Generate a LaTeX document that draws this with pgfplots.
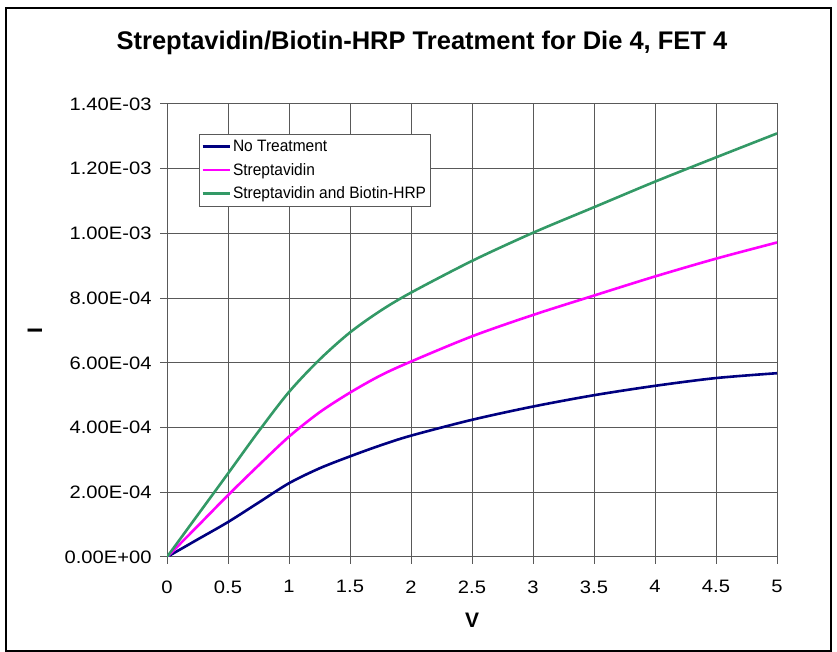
\documentclass[border=0pt]{standalone}
\usepackage{fontspec}
\setmainfont{Liberation Sans}
\newfontfamily\tickfont{Liberation Sans}[FakeStretch=1.12]
\newfontfamily\legfont{Liberation Sans}[FakeStretch=0.94]
\usepackage{pgfplots}
\pgfplotsset{compat=1.18}
\definecolor{navyc}{RGB}{0,0,128}
\definecolor{magc}{RGB}{255,0,255}
\definecolor{greenc}{RGB}{51,153,102}
\begin{document}
\begin{tikzpicture}[x=1bp,y=1bp]
\useasboundingbox (0,0) rectangle (837,652);
\draw[line width=1.5bp] (6,1) rectangle (831,644);
\begin{axis}[
  at={(167bp,95bp)}, anchor=south west,
  scale only axis, width=610bp, height=453bp,
  xmin=0, xmax=5, ymin=0, ymax=0.0014,
  scaled y ticks=false,
  xtick={0,0.5,1,1.5,2,2.5,3,3.5,4,4.5,5},
  xticklabels={0,0.5,1,1.5,2,2.5,3,3.5,4,4.5,5},
  ytick={0,0.0002,0.0004,0.0006,0.0008,0.001,0.0012,0.0014},
  yticklabels={0.00E+00,2.00E-04,4.00E-04,6.00E-04,8.00E-04,1.00E-03,1.20E-03,1.40E-03},
  xtick pos=bottom, ytick pos=left,
  tick align=outside, major tick length=7bp,
  tick style={black!65, line width=1bp},
  grid=major, major grid style={black!65, line width=1bp},
  axis line style={black!65, line width=1bp},
  ticklabel style={font=\tickfont\fontsize{18bp}{18bp}\selectfont},
  xticklabel style={yshift=-13bp},
  yticklabel style={xshift=-5bp},
  xlabel={V}, ylabel={I},
  xlabel style={at={(axis description cs:0.5,-0.139)}, anchor=center, font=\bfseries\fontsize{21bp}{21bp}\selectfont},
  ylabel style={at={(axis description cs:-0.2164,0.5)}, anchor=center, font=\bfseries\fontsize{21bp}{21bp}\selectfont},
  title={Streptavidin/Biotin-HRP Treatment for Die 4, FET 4},
  title style={at={(axis description cs:0.418,1.108)}, anchor=base, font=\bfseries\fontsize{25.5bp}{25.5bp}\selectfont},
  legend style={at={(axis description cs:0.0525,0.9338)}, anchor=north west,
    draw=black!65, line width=0.8bp, fill=white,
    font=\legfont\fontsize{16.5bp}{16.5bp}\selectfont,
    row sep=6bp, inner xsep=2bp, inner ysep=4bp},
  legend cell align=left,
  legend image code/.code={\draw[#1,line width=2.6bp] (0bp,0bp) -- (27bp,0bp);},
]
\addplot[navyc, line width=2.6bp, smooth] coordinates {
(0,0) (0.25,0.000054) (0.5,0.000108) (0.75,0.000168) (1,0.000228) (1.25,0.000274)
(1.5,0.000311) (1.75,0.000345) (2,0.000375) (2.5,0.000424) (3,0.000465)
(3.5,0.000500) (4,0.000529) (4.5,0.000553) (5,0.000568)};
\addlegendentry{No Treatment}
\addplot[magc, line width=2.6bp, smooth] coordinates {
(0,0) (0.25,0.000095) (0.5,0.000191) (0.75,0.000283) (1,0.000372) (1.25,0.000447)
(1.5,0.000508) (1.75,0.000561) (2,0.000604) (2.5,0.000682) (3,0.000748)
(3.5,0.000808) (4,0.000867) (4.5,0.000922) (5,0.000972)};
\addlegendentry{Streptavidin}
\addplot[greenc, line width=2.6bp, smooth] coordinates {
(0,0) (0.25,0.000129) (0.5,0.000258) (0.75,0.000388) (1,0.000510) (1.25,0.000610)
(1.5,0.000694) (1.75,0.000761) (2,0.000817) (2.5,0.000915) (3,0.001002)
(3.5,0.001081) (4,0.001160) (4.5,0.001235) (5,0.001309)};
\addlegendentry{Streptavidin and Biotin-HRP}
\end{axis}
\end{tikzpicture}
\end{document}
